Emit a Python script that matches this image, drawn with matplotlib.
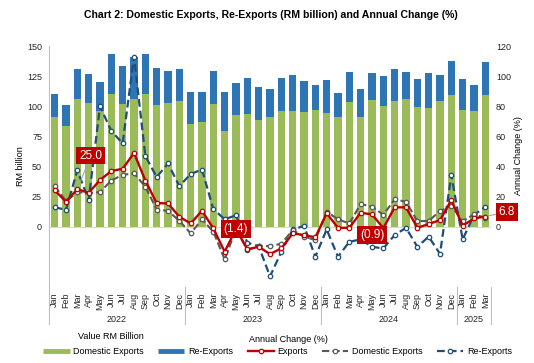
import matplotlib
matplotlib.use("Agg")
import matplotlib.pyplot as plt
from matplotlib.lines import Line2D
import numpy as np

plt.rcParams['font.family'] = ['Liberation Sans', 'DejaVu Sans']

months = ["Jan", "Feb", "Mar", "Apr", "May", "Jun", "Jul", "Aug", "Sep", "Oct", "Nov", "Dec"] * 3 + ["Jan", "Feb", "Mar"]
years = ["2022", "2023", "2024", "2025"]
year_counts = [12, 12, 12, 3]

# RM billion
domestic = [91.1, 83.6, 106.0, 103.0, 96.0, 110.4, 101.9, 106.0, 110.4, 101.0, 103.0, 104.6,
            85.2, 87.2, 102.1, 79.7, 92.7, 93.5, 88.8, 91.1, 96.0, 96.0, 95.2, 96.9,
            94.4, 91.1, 103.5, 91.1, 105.2, 100.2, 104.6, 106.0, 99.4, 98.5, 104.3, 109.3,
            96.9, 96.0, 109.3]
reexports = [19.0, 17.4, 24.9, 24.0, 24.0, 33.2, 31.5, 34.6, 33.2, 30.7, 26.2, 26.3,
             26.6, 24.6, 27.1, 32.4, 26.6, 29.9, 27.2, 23.2, 27.4, 30.2, 25.7, 20.7,
             27.4, 19.9, 24.9, 23.2, 22.4, 24.9, 26.3, 22.4, 23.2, 29.1, 21.6, 28.2,
             25.7, 21.6, 27.4]

# annual change (%)
chg_exports = [24.2, 16.6, 25.0, 22.5, 31.0, 37.0, 38.5, 49.0, 30.7, 15.7, 15.5, 6.6,
               2.2, 10.6, -1.1, -16.6, -1.4, -15.0, -13.3, -18.1, -14.4, -4.4, -5.5, -7.0,
               8.9, -0.7, -0.7, 9.3, 8.2, -0.9, 12.9, 12.9, -0.7, 1.8, 4.4, 17.7,
               0.7, 5.5, 6.8]
chg_domestic = [27.0, 17.0, 23.0, 22.4, 23.0, 30.7, 34.5, 35.4, 26.6, 11.4, 10.5, 4.0,
                -4.4, 4.9, -3.3, -21.7, -1.5, -15.3, -13.0, -12.8, -11.3, -2.2, -6.6, -8.8,
                10.0, 4.9, 2.2, 15.1, 13.3, 8.0, 18.2, 16.6, 3.8, 3.8, 10.4, 14.0,
                3.8, 8.2, 6.0]
chg_reexports = [12.9, 11.3, 37.5, 17.7, 80.0, 63.5, 55.4, 113.0, 47.0, 33.0, 42.0, 27.0,
                 35.0, 38.0, 11.6, 5.0, 7.6, -10.6, -12.8, -33.0, -16.6, -1.8, 0.5, -19.9,
                 -1.8, -19.9, -10.0, -8.4, -13.3, -14.4, -5.5, -0.7, -13.3, -6.6, -18.0, 34.3,
                 -8.4, 7.8, 13.3]

green = "#9BBB59"
blue = "#2E75B6"
red = "#C00000"
grey = "#595959"
navy = "#1F4E79"

x = np.arange(len(months))

fig = plt.figure(figsize=(5.34, 3.63), dpi=100)
ax = fig.add_axes([49/534, 1-287/363, (491-49)/534, (287-46)/363])
ax2 = ax.twinx()

ax.bar(x, domestic, width=0.66, color=green, zorder=2)
ax.bar(x, reexports, width=0.66, bottom=domestic, color=blue, zorder=2)
ax.axhline(0, color="#D9D9D9", lw=0.8, zorder=1)

ax.set_xlim(-0.5, len(months) - 0.5)
ax.set_ylim(-50, 150)
ax2.set_ylim(-40, 120)
ax.set_yticks(range(0, 151, 25))
ax2.set_yticks(range(0, 121, 20))
ax.set_xticks(x)
ax.set_xticklabels(months, rotation=90)
ax.tick_params(axis="both", length=0, labelsize=6.5, colors="#262626")
ax.tick_params(axis="x", pad=4)
ax.tick_params(axis="y", pad=5)
ax2.tick_params(axis="y", length=0, labelsize=6.5, colors="#262626", pad=3.5)

for s in ["top", "right", "bottom"]:
    ax.spines[s].set_visible(False)
    ax2.spines[s].set_visible(False)
ax2.spines["left"].set_visible(False)
ax.spines["left"].set_color("#BFBFBF")

ax.set_ylabel("RM billion", fontsize=6.5)
ax.yaxis.set_label_coords(-0.054, 0.5)
ax2.set_ylabel("Annual Change (%)", fontsize=6.5)
ax2.yaxis.set_label_coords(1.052, 0.545)

# year separators and labels under the month labels
bounds = np.concatenate([[0], np.cumsum(year_counts)]) - 0.5
trans = ax.get_xaxis_transform()
for b in bounds:
    ax.plot([b, b], [0, -0.155], transform=trans, color="#BFBFBF", lw=0.8, clip_on=False)
for i, yr in enumerate(years):
    ax.text((bounds[i] + bounds[i+1]) / 2, -0.133, yr, transform=trans,
            ha="center", va="center", fontsize=6.5, color="#262626")

mk = dict(marker="o", markersize=3.2, markerfacecolor="white", markeredgewidth=0.9)
l_exp, = ax2.plot(x, chg_exports, color=red, lw=1.7, markeredgecolor=red, zorder=5, **mk)
l_dom, = ax2.plot(x, chg_domestic, color=grey, lw=1.5, dashes=(3.5, 1.5),
                  markeredgecolor=grey, zorder=4, **mk)
l_re, = ax2.plot(x, chg_reexports, color=navy, lw=1.6, dashes=(3.5, 1.8),
                 markeredgecolor=navy, zorder=3, **mk)

box = dict(boxstyle="square,pad=0.25", fc=red, ec="none")
arrow = dict(arrowstyle="-", color="#A6A6A6", lw=0.8, shrinkA=0, shrinkB=2)
ax2.annotate("25.0", xy=(2, chg_exports[2]), xytext=(3.2, 47.3), ha="center", va="center",
             fontsize=8.5, color="white", bbox=box, arrowprops=arrow, zorder=6)
ax2.annotate("(1.4)", xy=(16, chg_exports[16]), xytext=(16.0, -1.5), ha="center", va="center",
             fontsize=8.5, color="white", bbox=box, zorder=6)
ax2.annotate("(0.9)", xy=(29, chg_exports[29]), xytext=(28.0, -5.5), ha="center", va="center",
             fontsize=8.5, color="white", bbox=box, zorder=6)
ax2.annotate("6.8", xy=(38, chg_exports[38]), xytext=(39.9, 9.8), ha="center", va="center",
             fontsize=8.5, color="white", bbox=box, arrowprops=arrow, zorder=6,
             annotation_clip=False)

fig.suptitle("Chart 2: Domestic Exports, Re-Exports (RM billion) and Annual Change (%)",
             x=0.507, y=0.972, fontsize=7.6, fontweight="bold")

# legend
handles = [Line2D([], [], color=green, lw=3.5, solid_capstyle="butt"),
           Line2D([], [], color=blue, lw=3.5, solid_capstyle="butt"),
           l_exp, l_dom, l_re]
labels = ["Domestic Exports", "Re-Exports", "Exports", "Domestic Exports", "Re-Exports"]
fig.legend(handles, labels, loc="center", bbox_to_anchor=(0.52, 0.031), ncol=5,
           frameon=False, fontsize=6.5, handlelength=2.9, handletextpad=0.4,
           columnspacing=1.6)
fig.text(111/534, 1-336.7/363, "Value RM Billion", ha="center", va="center", fontsize=6.5)
fig.text(288/534, 1-340/363, "Annual Change (%)", ha="center", va="center", fontsize=6.5)

fig.savefig("out.png", dpi=100)
